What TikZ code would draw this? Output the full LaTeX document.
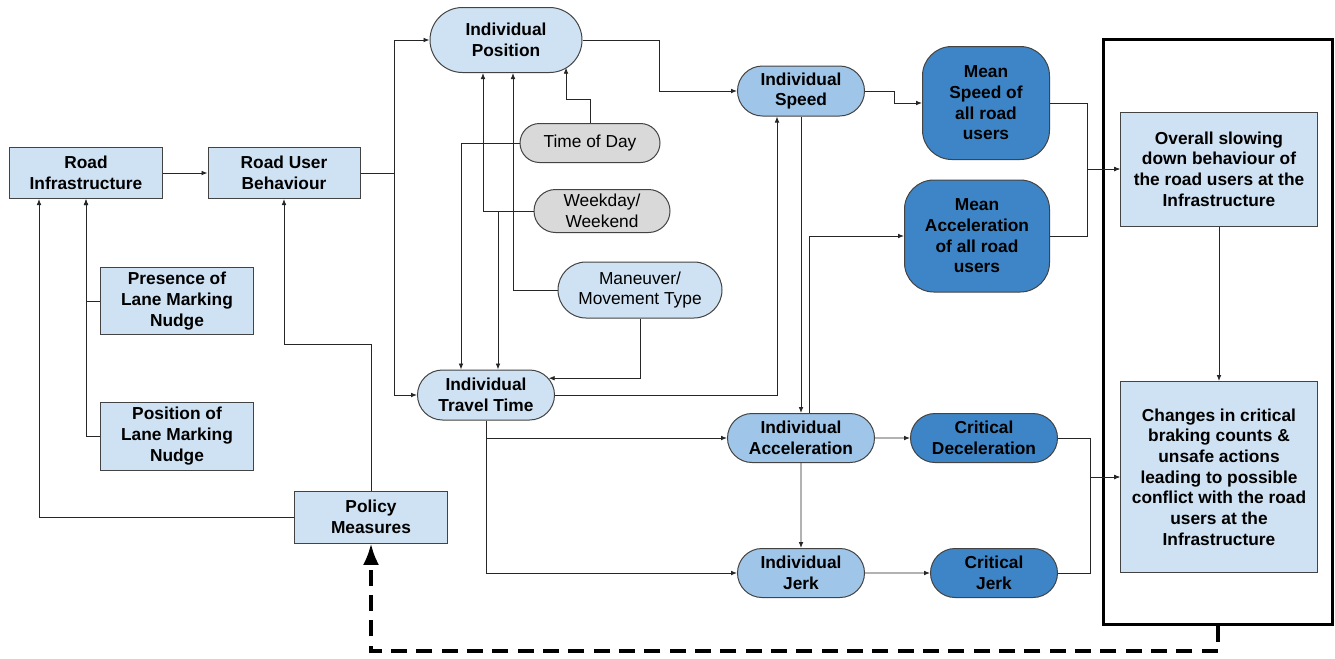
\documentclass[tikz,border=0pt]{standalone}
\usepackage{fontspec}
\setmainfont{Liberation Sans}
\usetikzlibrary{arrows.meta,shapes.misc}
\definecolor{lightblue}{HTML}{CFE2F3}
\definecolor{midblue}{HTML}{9FC5E8}
\definecolor{darkblue}{HTML}{3D85C6}
\definecolor{factorgray}{HTML}{D9D9D9}
\definecolor{edgegray}{HTML}{434343}

\begin{document}
\begin{tikzpicture}[x=0.75pt,y=-0.75pt,
    >={Latex[length=4.5pt,width=3.5pt]},
    every node/.style={font=\fontsize{13}{15.5}\selectfont\bfseries, align=center,
      draw=edgegray, line width=0.75pt, inner sep=0pt},
    dims/.style 2 args={minimum width=#1pt, minimum height=#2pt},
    rect/.style={rectangle, fill=lightblue},
    pill/.style={rounded rectangle, fill=#1},
    factor/.style={rounded rectangle, fill=#1, font=\fontsize{13}{15.5}\selectfont},
    mean/.style={rectangle, rounded corners=22pt, fill=darkblue},
    link/.style={->, line width=0.6pt, draw=black!85}]

    \useasboundingbox (0,0) rectangle (1335,658);

    \node [rect, dims={114.75}{38.25}] (a) at (86, 173) {Road\\Infrastructure};
    \node [rect, dims={114}{38.25}] (b) at (284, 173) {Road User\\Behaviour};
    \node [rect, dims={114.75}{50.25}] (c) at (177, 301) {Presence of\\Lane Marking\\Nudge};
    \node [rect, dims={114.75}{51}] (d) at (177, 436) {Position of\\Lane Marking\\Nudge};
    \node [rect, dims={114.75}{39}] (e) at (371, 517) {Policy\\Measures};
    \node [pill=lightblue, dims={114}{48.75}] (f) at (506, 40) {Individual\\Position};
    \node [factor=factorgray, dims={105}{29.25}] (g) at (590, 143) {Time of Day};
    \node [factor=factorgray, dims={102}{32.25}] (h) at (602, 211) {Weekday/\\Weekend};
    \node [factor=lightblue, dims={123}{42}] (i) at (640, 290) {Maneuver/\\Movement Type};
    \node [pill=lightblue, dims={102.75}{37.5}] (j) at (486, 395) {Individual\\Travel Time};
    \node [pill=midblue, dims={95.25}{37.5}] (k) at (801, 91) {Individual\\Speed};
    \node [mean, dims={95.25}{84.75}] (l) at (986, 103) {Mean\\Speed of\\all road\\users};
    \node [mean, dims={108.75}{84}] (m) at (977, 236) {Mean\\Acceleration\\of all road\\users};
    \node [pill=midblue, dims={110.25}{36.75}] (n) at (801, 438) {Individual\\Acceleration};
    \node [pill=darkblue, dims={110.25}{36.75}] (o) at (984, 438) {Critical\\Deceleration};
    \node [pill=midblue, dims={95.25}{36.75}] (p) at (801, 573) {Individual\\Jerk};
    \node [pill=darkblue, dims={95.25}{36.75}] (q) at (994, 573) {Critical\\Jerk};
    \node [draw=black, line width=2.25pt, dims={171.75}{438.75}] (r) at (1218, 332) {};
    \node [rect, dims={147.75}{85.5}] (s) at (1219, 169) {Overall slowing\\down behaviour of\\the road users at the\\Infrastructure};
    \node [rect, dims={147.75}{143.25}] (t) at (1219, 477) {Changes in critical\\braking counts \&\\unsafe actions\\leading to possible\\conflict with the road\\users at the\\Infrastructure};

    \draw [link] (a) -- (b);
    \draw [link] (b.east) -- ++(34,0) |- (f.west);
    \draw [link] (b.east) -- ++(34,0) |- (j.west);
    \draw [link] (e.north) -- ++(0,-146) -| (b.south);
    \draw [link] (e.west) -| ([xshift=22.5pt]a.south west);
    \draw [link] (c.west) -| (a.south);
    \draw [link] (d.west) -| (a.south);
    \draw [link] (g.north) -- ++(0,-24) -| ([xshift=45pt,yshift=4pt]f.south);
    \draw [link] (g.west) -| ([xshift=-18.75pt]j.north);
    \draw [link] (h.west) -| ([xshift=-17.25pt]f.south);
    \draw [link] (h.west) -| ([xshift=9pt]j.north);
    \draw [link] (i.west) -| ([xshift=5.25pt]f.south);
    \draw [link] (i.south) |- (j.15);
    \draw [link] (f.east) -- ++(77,0) |- (k.west);
    \draw [link] (j.east) -| ([xshift=-18pt]k.south);
    \draw [link] (k.south) -- (n.north);
    \draw [link] ([xshift=6pt]n.north) |- (m.west);
    \draw [link] (k.east) -- ++(29,0) |- (l.west);
    \draw [link] (j.south) |- (n.west);
    \draw [link] (j.south) |- (p.west);
    \draw [link] (n) -- (o);
    \draw [link] (n) -- (p);
    \draw [link] (p) -- (q);
    \draw [link] (l.east) -- ++(37,0) |- (s.west);
    \draw [link] (m.east) -- ++(37,0) |- (s.west);
    \draw [link] (o.east) -- ++(32,0) |- (t.west);
    \draw [link] (q.east) -- ++(32,0) |- (t.west);
    \draw [link] (s) -- (t);
    \draw [line width=2.6pt, dash pattern=on 12pt off 7pt, -{Latex[length=16pt,width=12pt]}]
      (r.south) -- ++(0,25) -| (e.south);

  \end{tikzpicture}
\end{document}
